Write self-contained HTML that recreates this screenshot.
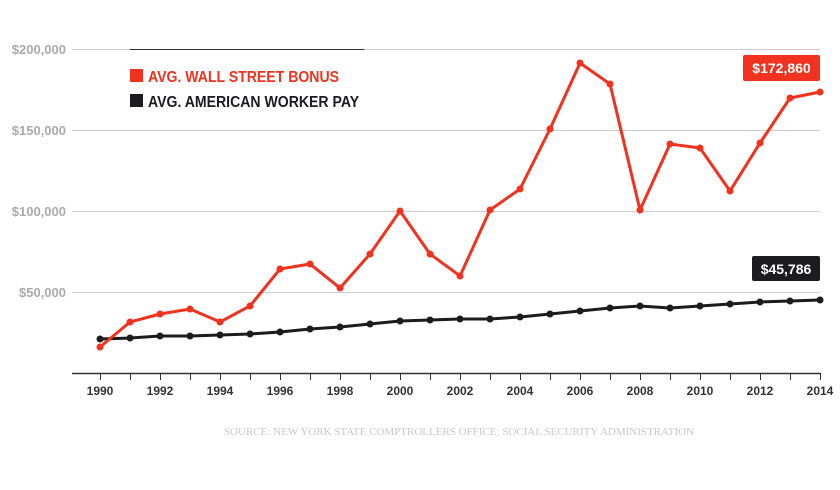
<!DOCTYPE html>
<html><head><style>
body{margin:0;background:#fff;}
svg text{font-family:"Liberation Sans",Arial,sans-serif;}
</style></head><body>
<svg width="840" height="485" viewBox="0 0 840 485" xmlns="http://www.w3.org/2000/svg">
<g stroke="#cccccc" stroke-width="1">
<line x1="72" y1="49.5" x2="820" y2="49.5"/>
<line x1="72" y1="130.5" x2="820" y2="130.5"/>
<line x1="72" y1="211.5" x2="820" y2="211.5"/>
<line x1="72" y1="292.5" x2="820" y2="292.5"/>
</g>
<line x1="130" y1="49.5" x2="364" y2="49.5" stroke="#333" stroke-width="1"/>
<g font-size="13" font-weight="bold" fill="#aaaaaa" text-anchor="end">
<text x="66" y="54">$200,000</text>
<text x="66" y="135">$150,000</text>
<text x="66" y="216">$100,000</text>
<text x="66" y="297">$50,000</text>
</g>
<line x1="72" y1="373.5" x2="820" y2="373.5" stroke="#333" stroke-width="1.5"/>
<g id="ticks" stroke="#333" stroke-width="1"></g>
<g id="xl" font-size="12" font-weight="bold" fill="#333" text-anchor="middle"></g>
<rect x="130" y="69" width="13" height="13" fill="#f0321e"/>
<text x="148" y="82" font-size="16" font-weight="bold" fill="#f0321e" transform="translate(148 0) scale(0.88 1) translate(-148 0)">AVG. WALL STREET BONUS</text>
<rect x="130" y="94" width="13" height="13" fill="#1c1c20"/>
<text x="148" y="107" font-size="16" font-weight="bold" fill="#1c1c20" transform="translate(148 0) scale(0.88 1) translate(-148 0)">AVG. AMERICAN WORKER PAY</text>
<polyline id="bl" fill="none" stroke="#1c1c1c" stroke-width="3"/>
<polyline id="rl" fill="none" stroke="#f0321e" stroke-width="3"/>
<g id="bd" fill="#1c1c1c"></g>
<g id="rd" fill="#f0321e"></g>
<rect x="743" y="55" width="77" height="26" rx="2" fill="#f0321e"/>
<text x="781.5" y="73" font-size="14" font-weight="bold" fill="#fff" text-anchor="middle">$172,860</text>
<rect x="752" y="256" width="68" height="25" rx="2" fill="#1c1c20"/>
<text x="786" y="274" font-size="14" font-weight="bold" fill="#fff" text-anchor="middle">$45,786</text>
<text x="459" y="435" font-size="11" fill="#c8c8c8" text-anchor="middle" style="font-family:'Liberation Serif',serif">SOURCE: NEW YORK STATE COMPTROLLERS OFFICE; SOCIAL SECURITY ADMINISTRATION</text>
</svg>
<script>
var r=[347,322,314,309,322,306,269,264,288,254,211,254,276,210,189,129,63,84,210,144,148,191,143,98,92];
var b=[339,338,336,336,335,334,332,329,327,324,321,320,319,319,317,314,311,308,306,308,306,304,302,301,300];
var ns="http://www.w3.org/2000/svg";
function pts(a){return a.map((y,i)=>(100+30*i)+","+y).join(" ");}
document.getElementById("rl").setAttribute("points",pts(r));
document.getElementById("bl").setAttribute("points",pts(b));
function dots(a,id){var g=document.getElementById(id);a.forEach((y,i)=>{var c=document.createElementNS(ns,"circle");c.setAttribute("cx",100+30*i);c.setAttribute("cy",y);c.setAttribute("r",3.5);g.appendChild(c);});}
dots(b,"bd");dots(r,"rd");
var t=document.getElementById("ticks"),x=document.getElementById("xl");
for(var i=0;i<25;i++){var X=100+30*i;var l=document.createElementNS(ns,"line");l.setAttribute("x1",X+.5);l.setAttribute("x2",X+.5);l.setAttribute("y1",373);l.setAttribute("y2",380);t.appendChild(l);
if(i%2==0){var tx=document.createElementNS(ns,"text");tx.setAttribute("x",X);tx.setAttribute("y",395);tx.textContent=1990+i;x.appendChild(tx);}}
</script>
</body></html>
